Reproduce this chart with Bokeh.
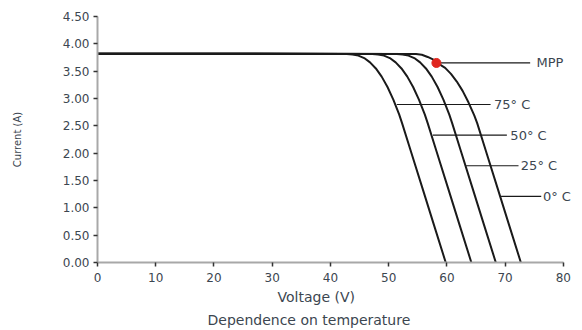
from bokeh.plotting import figure
from bokeh.models import Range1d, FixedTicker, NumeralTickFormatter, ColumnDataSource, LabelSet, Title
from bokeh.core.properties import value
from bokeh.embed import file_html
from bokeh.resources import INLINE

# ---- data ----
v_75 = [0, 42.8, 43.8, 44.8, 45.8, 46.8, 47.8, 48.8, 49.8, 50.8, 51.8, 52.3, 53.8, 55.8, 57.8, 59.8]
v_50 = [0, 47.2, 48.2, 49.2, 50.2, 51.2, 52.2, 53.2, 54.2, 55.2, 56.2, 56.7, 58.2, 60.2, 62.2, 64.2]
v_25 = [0, 51.4, 52.4, 53.4, 54.4, 55.4, 56.4, 57.4, 58.4, 59.4, 60.4, 60.9, 62.4, 64.4, 66.4, 68.4]
i_warm = [3.82, 3.815, 3.805, 3.785, 3.74, 3.66, 3.55, 3.40, 3.21, 2.98, 2.71, 2.55, 2.04, 1.36, 0.68, 0.0]

v_0 = [0, 54.7, 55.7, 56.7, 57.7, 58.2, 59.7, 60.7, 61.7, 62.7, 63.7, 64.7, 65.2, 66.7, 68.7, 70.7, 72.7]
i_0 = [3.82, 3.815, 3.80, 3.76, 3.71, 3.66, 3.56, 3.45, 3.31, 3.14, 2.93, 2.69, 2.55, 2.04, 1.36, 0.68, 0.0]

mpp_v = [58.2]
mpp_i = [3.65]

label_names = ["MPP", "75\u00b0 C", "50\u00b0 C", "25\u00b0 C", "0\u00b0 C"]
leader_start = [58.2, 51.4, 57.6, 63.3, 69.3]
leader_end = [74.3, 67.5, 70.3, 72.3, 76.2]
leader_i = [3.65, 2.89, 2.33, 1.77, 1.21]
label_v = [75.4, 68.1, 70.9, 72.7, 76.5]

x_ticks = [0, 10, 20, 30, 40, 50, 60, 70, 80]
y_ticks = [0, 0.5, 1.0, 1.5, 2.0, 2.5, 3.0, 3.5, 4.0, 4.5]

x_label = "Voltage (V)"
y_label = "Current (A)"
caption = "Dependence on temperature"

FONT = "DejaVu Sans"
TEXT_COLOR = "#3c4650"

p = figure(width=582, height=330, output_backend="svg", toolbar_location=None,
           x_range=Range1d(0, 82.6), y_range=Range1d(0, 4.5),
           min_border_left=97, min_border_right=4, min_border_top=16, min_border_bottom=66)
p.outline_line_color = None
p.xgrid.visible = False
p.ygrid.visible = False

for v, i in [(v_75, i_warm), (v_50, i_warm), (v_25, i_warm), (v_0, i_0)]:
    p.line(v, i, line_color="#1a1a1a", line_width=2)

src = ColumnDataSource(dict(x0=leader_start, x1=leader_end, y=leader_i, lx=label_v, txt=label_names))
p.segment(x0="x0", y0="y", x1="x1", y1="y", source=src, line_color="#1a1a1a", line_width=1.2)
p.add_layout(LabelSet(x="lx", y="y", text="txt", source=src, text_font=value(FONT),
                      text_font_size="13px", text_color=TEXT_COLOR,
                      text_align="left", text_baseline="middle"))

p.scatter(mpp_v, mpp_i, size=9, color="#e0261f", line_color="#e0261f")

for ax in (p.xaxis[0], p.yaxis[0]):
    ax.axis_line_color = "#a8a8a8"
    ax.axis_line_width = 2
    ax.major_tick_line_color = "#333333"
    ax.major_tick_line_width = 1.5
    ax.major_tick_out = 4
    ax.major_tick_in = 0
    ax.minor_tick_line_color = None
    ax.major_label_text_font = FONT
    ax.major_label_text_font_size = "12px"
    ax.major_label_text_color = TEXT_COLOR

p.xaxis[0].ticker = FixedTicker(ticks=x_ticks)
p.xaxis[0].bounds = (0, 80)
p.yaxis[0].ticker = FixedTicker(ticks=y_ticks)
p.yaxis[0].formatter = NumeralTickFormatter(format="0.00")
p.xaxis[0].major_label_standoff = 6
p.yaxis[0].major_label_standoff = 4

p.yaxis[0].axis_label = y_label
p.yaxis[0].axis_label_text_font = FONT
p.yaxis[0].axis_label_text_font_size = "10px"
p.yaxis[0].axis_label_text_font_style = "normal"
p.yaxis[0].axis_label_text_color = TEXT_COLOR
p.yaxis[0].axis_label_standoff = 37

p.add_layout(Title(text=x_label, align="left", offset=180, standoff=4,
                   text_font=FONT, text_font_size="14px", text_font_style="normal",
                   text_color=TEXT_COLOR), "below")
p.add_layout(Title(text=caption, align="left", offset=110, standoff=6,
                   text_font=FONT, text_font_size="14px", text_font_style="normal",
                   text_color=TEXT_COLOR), "below")

open("out.html", "w").write(file_html(p, INLINE))
